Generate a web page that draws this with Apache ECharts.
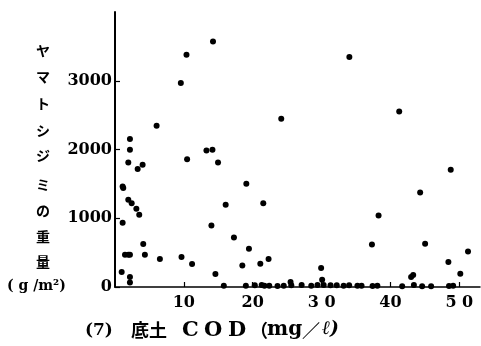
<!DOCTYPE html>
<html>
<head>
<meta charset="utf-8">
<script src="https://cdn.jsdelivr.net/npm/echarts@6/dist/echarts.min.js"></script>
<style>html,body{margin:0;padding:0;background:#fff;}#c{width:481px;height:346px;}</style>
</head>
<body>
<div id="c"></div>
<script>
// 底土COD (mg/ℓ) and ヤマトシジミの重量 (g/m²)
var codValues = [6.04, 2.17, 2.17, 1.93, 3.29, 4.01, 1.11, 1.2, 1.93, 2.42, 3.1, 3.52, 1.11, 1.45, 1.93, 2.17, 4.1, 4.34, 6.52, 9.66, 11.19, 0.97, 2.17, 2.17,
  14.23, 10.38, 9.56, 13.28, 14.15, 10.47, 14.96, 24.14, 34.03, 41.27, 48.75, 14.0, 14.58, 16.07, 19.07, 17.27, 19.45, 18.49, 21.53, 21.1, 22.3,
  44.31, 38.27, 37.31, 45.03, 51.26, 48.41, 50.14, 43.0, 43.3, 29.93, 30.08, 25.49, 43.4];
var weightValues = [2345, 2151, 1996, 1811, 1715, 1777, 1462, 1439, 1268, 1220, 1140, 1050, 934, 468, 468, 468, 624, 468, 406, 435, 333, 217, 145, 65,
  3571, 3377, 2966, 1985, 1996, 1860, 1811, 2447, 3344, 2553, 1705, 895, 188, 1196, 1501, 720, 556, 313, 1220, 337, 406,
  1375, 1040, 618, 628, 516, 362, 192, 144, 173, 275, 105, 71, 30];
// points lying on the baseline
var codBaseline = [15.8, 19.0, 20.3, 21.3, 21.7, 22.4, 23.6, 24.5, 25.6, 27.1, 28.5, 29.4, 30.3, 31.3, 32.2, 33.2, 34.0, 35.2, 35.8, 37.4, 38.1, 41.7, 44.6, 45.9, 48.5, 49.1];
var weightBaseline = [20, 20, 25, 30, 20, 20, 15, 20, 25, 30, 20, 30, 30, 25, 25, 20, 25, 20, 20, 15, 20, 10, 10, 10, 15, 20];
var xTicks = [10, 20, 30, 40, 50];
var xTickLabels = ['10', '20', '3 0', '40', '5 0'];
var yTicks = [0, 1000, 2000, 3000];
var yTickLabels = ['0', '1000', '2000', '3000'];

var pts = [];
for (var i = 0; i < codValues.length; i++) pts.push([codValues[i], weightValues[i]]);
for (var j = 0; j < codBaseline.length; j++) pts.push([codBaseline[j], weightBaseline[j]]);

var serif = '"DejaVu Serif", serif';
var cjk = '"Noto Sans CJK JP", sans-serif';
var yChars = ['ヤ', 'マ', 'ト', 'シ', 'ジ', 'ミ', 'の', '重', '量'];
var yCharPos = [52, 78, 105, 132, 157, 186, 212, 238, 263];
var graphics = [];
yChars.forEach(function (ch, k) {
  graphics.push({type: 'text', left: 36, top: yCharPos[k] - 8,
    style: {text: ch, font: 'bold 14px ' + cjk, fill: '#000'}});
});
graphics.push({type: 'text', left: 7, top: 279, style: {text: '( g /m²)', font: 'bold 14px ' + serif, fill: '#000'}});
graphics.push({type: 'text', left: 85, top: 322, style: {text: '(7)', font: 'bold 17px ' + serif, fill: '#000'}});
graphics.push({type: 'text', left: 131, top: 321, style: {text: '底土', font: 'bold 18px ' + cjk, fill: '#000'}});
graphics.push({type: 'text', left: 182, top: 320, style: {text: 'C', font: 'bold 21px ' + serif, fill: '#000'}});
graphics.push({type: 'text', left: 204, top: 320, style: {text: 'O', font: 'bold 21px ' + serif, fill: '#000'}});
graphics.push({type: 'text', left: 228, top: 320, style: {text: 'D', font: 'bold 21px ' + serif, fill: '#000'}});
graphics.push({type: 'text', left: 250, top: 321, style: {text: '（', font: 'bold 18px ' + cjk, fill: '#000'}});
graphics.push({type: 'text', left: 267, top: 320, style: {text: 'mg', font: 'bold 20px ' + serif, fill: '#000'}});
graphics.push({type: 'text', left: 302, top: 321, style: {text: '／', font: 'bold 18px ' + cjk, fill: '#000'}});
graphics.push({type: 'text', left: 322, top: 320, style: {text: 'ℓ)', font: 'italic bold 19px ' + serif, fill: '#000'}});

var chart = echarts.init(document.getElementById('c'), null, {renderer: 'canvas'});
chart.setOption({
  animation: false,
  backgroundColor: '#fff',
  grid: {left: 115, right: 1, top: 12, bottom: 59, containLabel: false},
  xAxis: {
    type: 'value', min: 0, max: 53, interval: 10,
    splitLine: {show: false},
    axisLine: {show: true, onZero: false, lineStyle: {color: '#000', width: 1.5}},
    axisTick: {show: true, inside: true, length: 5, customValues: xTicks, lineStyle: {color: '#000', width: 1.2}},
    axisLabel: {show: true, customValues: xTicks, margin: 8, color: '#000', fontFamily: serif, fontWeight: 'bold', fontSize: 16,
      formatter: function (v) { var k = xTicks.indexOf(v); return k >= 0 ? xTickLabels[k] : ''; }}
  },
  yAxis: {
    type: 'value', min: 0, max: 4000, interval: 1000,
    splitLine: {show: false},
    axisLine: {show: true, onZero: false, lineStyle: {color: '#000', width: 2}},
    axisTick: {show: true, inside: true, length: 5, customValues: yTicks, lineStyle: {color: '#000', width: 1.2}},
    axisLabel: {show: true, customValues: yTicks, margin: 3, color: '#000', fontFamily: serif, fontWeight: 'bold', fontSize: 16,
      formatter: function (v) { var k = yTicks.indexOf(v); return k >= 0 ? yTickLabels[k] : ''; }}
  },
  series: [{
    type: 'scatter', data: pts, symbol: 'circle', symbolSize: 6,
    itemStyle: {color: '#000', opacity: 1}, z: 3
  }],
  graphic: graphics
});
</script>
</body>
</html>
